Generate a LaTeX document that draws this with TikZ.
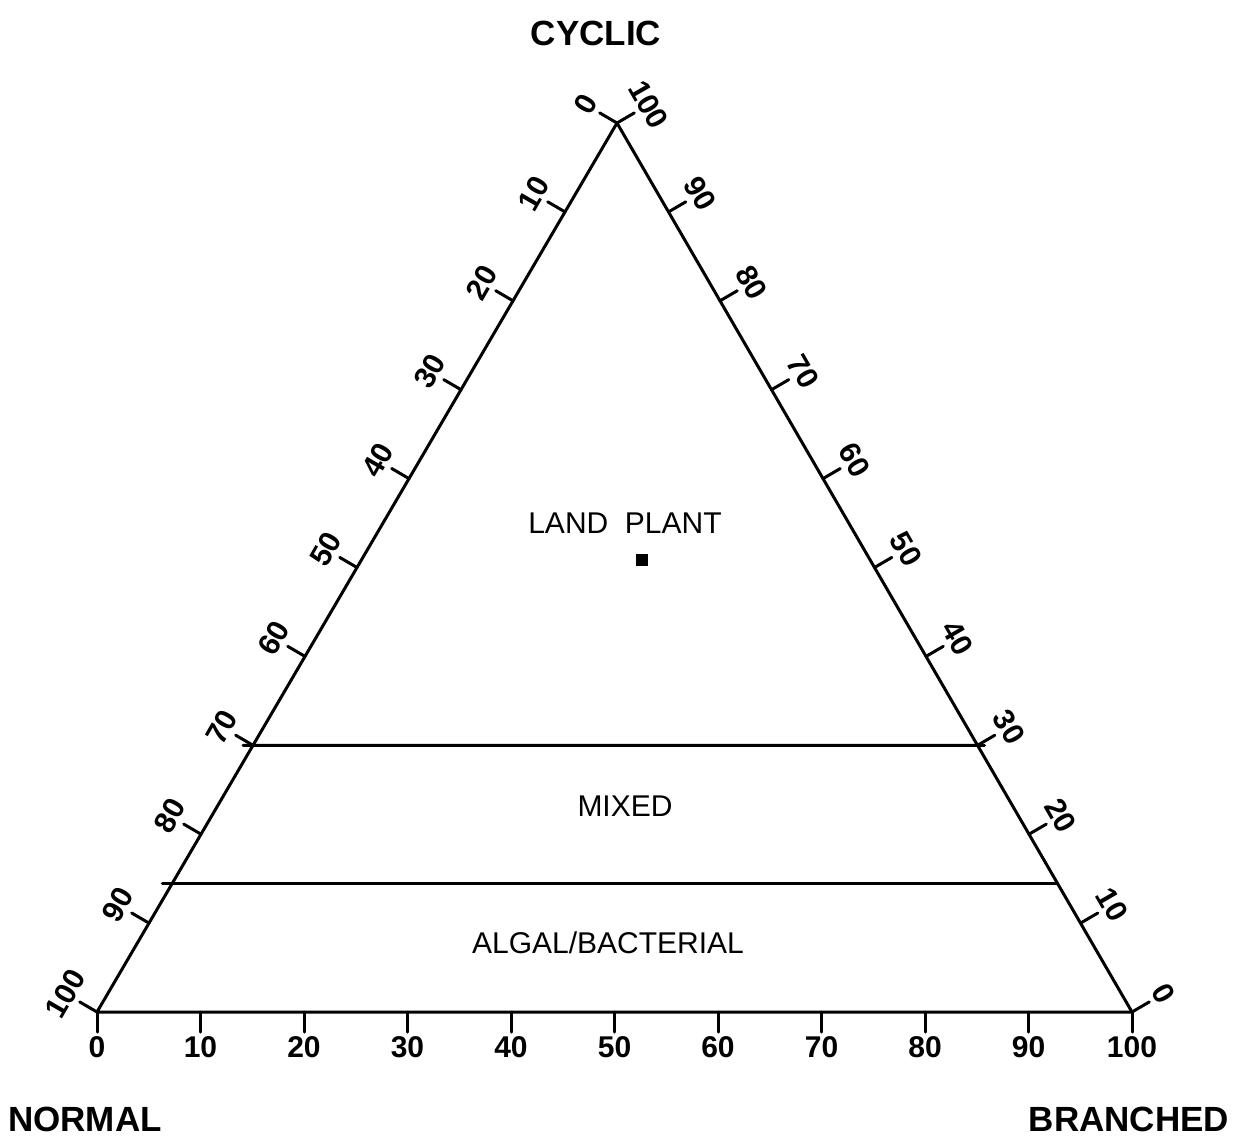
\documentclass[tikz,border=0pt]{standalone}
\usepackage{fontspec}
\setmainfont{Liberation Sans}
\usetikzlibrary{calc}
\tikzset{
  axisline/.style={line width=1.5pt, line cap=round, line join=round},
  num/.style={font=\fontsize{15}{16}\selectfont\bfseries, inner sep=0pt},
  corner/.style={font=\fontsize{17.5}{18}\selectfont\bfseries, inner sep=0pt},
  region/.style={font=\fontsize{15}{16}\selectfont, inner sep=0pt},
}
\begin{document}
\begin{tikzpicture}[x=0.5pt,y=-0.5pt]
\useasboundingbox (0,0) rectangle (1235,1136);
\coordinate (T) at (617,123);
\coordinate (L) at (97,1012);
\coordinate (R) at (1132,1012);
\draw[axisline] (L) -- (R) -- (T) -- cycle;
\foreach \i in {0,...,10}{
  \pgfmathtruncatemacro{\v}{10*\i}
  % bottom axis
  \coordinate (b\i) at ($(L)!\i/10!(R)$);
  \draw[axisline] (b\i) -- ++(0,20);
  \node[num] (bl\i) at ($(b\i)+(0,35)$) {\v};
  % left axis
  \coordinate (l\i) at ($(T)!\i/10!(L)$);
  \draw[axisline] (l\i) -- ++(-17.3,-10.1);
  \node[num, rotate=60] (ll\i) at ($(l\i)+(-31.5,-18.4)$) {\v};
  % right axis
  \coordinate (r\i) at ($(R)!\i/10!(T)$);
  \draw[axisline] (r\i) -- ++(17.3,-10.1);
  \node[num, rotate=-60] (rl\i) at ($(r\i)+(31.5,-18.4)$) {\v};
}
% boundary lines
\coordinate (u1) at ($(l7)+(-10,0)$);
\coordinate (u2) at ($(r3)+(7,0)$);
\draw[axisline] (u1) -- (u2);
\coordinate (a1) at ($(T)!0.855!(L)+(-10,0)$);
\coordinate (a2) at ($(T)!0.855!(R)$);
\draw[axisline] (a1) -- (a2);
% region labels
\node[region] (land) at (625,523) {LAND\ \ PLANT};
\node[region] (mixed) at (625,806) {MIXED};
\node[region] (algal) at (608,943) {ALGAL/BACTERIAL};
\node[fill=black, minimum size=6pt, inner sep=0pt] (pt) at (642,560) {};
% corner labels
\node[corner] (cyc) at (596,33) {CYCLIC};
\node[corner] (nor) at (85,1119) {NORMAL};
\node[corner] (bra) at (1129,1119) {BRANCHED};
\end{tikzpicture}
\end{document}
